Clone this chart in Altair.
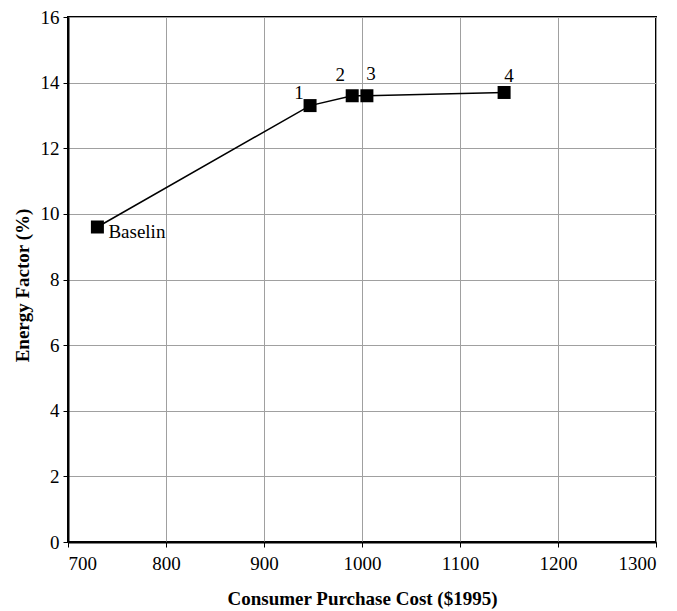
import altair as alt
import pandas as pd

# Data
cost = [730, 947, 990, 1005, 1145]
energy_factor = [9.6, 13.3, 13.6, 13.6, 13.7]
labels = ["Baselin", "1", "2", "3", "4"]

x_ticks = [700, 800, 900, 1000, 1100, 1200, 1300]
y_ticks = [0, 2, 4, 6, 8, 10, 12, 14, 16]

df = pd.DataFrame({"cost": cost, "ef": energy_factor, "label": labels})

FONT = "Liberation Serif"

x_enc = alt.X(
    "cost:Q",
    scale=alt.Scale(domain=[700, 1300], nice=False, zero=False),
    axis=alt.Axis(
        values=x_ticks,
        format="d",
        title="Consumer Purchase Cost ($1995)",
        titleY=56,
        titleBaseline="middle",
        labelPadding=7,
        labelFont=FONT,
        titleFont=FONT,
    ),
)
y_enc = alt.Y(
    "ef:Q",
    scale=alt.Scale(domain=[0, 16], nice=False),
    axis=alt.Axis(
        values=y_ticks,
        format="d",
        title="Energy Factor (%)",
        titleX=-46,
        titleY=268,
        titleBaseline="middle",
        titleAngle=270,
        labelPadding=4,
        labelFont=FONT,
        titleFont=FONT,
    ),
)

base = alt.Chart(df)

line = base.mark_line(color="black", strokeWidth=1.5).encode(x=x_enc, y=y_enc, order="cost:Q")
points = base.mark_point(shape="square", filled=True, color="black", size=169, opacity=1).encode(
    x=x_enc, y=y_enc
)

offsets = {
    "Baselin": (11, 5, "left"),
    "1": (-11, -13, "center"),
    "2": (-12, -21, "center"),
    "3": (4, -22, "center"),
    "4": (5, -16, "center"),
}

text_layers = []
for lab, (dx, dy, al) in offsets.items():
    text_layers.append(
        base.transform_filter(alt.datum.label == lab)
        .mark_text(font=FONT, fontSize=19, color="black", dx=dx, dy=dy, align=al, baseline="middle")
        .encode(x=x_enc, y=y_enc, text="label:N")
    )

chart = (
    alt.layer(line, points, *text_layers)
    .properties(
        width=588,
        height=525,
        autosize=alt.AutoSizeParams(type="none"),
        padding={"left": 60, "top": 9, "right": 13, "bottom": 69},
        background="white",
    )
    .configure(font=FONT)
    .configure_view(stroke="black", strokeWidth=2)
    .configure_axis(
        labelFont=FONT,
        titleFont=FONT,
        labelFontSize=19,
        titleFontSize=19,
        titleFontWeight="bold",
        labelColor="black",
        titleColor="black",
        domainColor="black",
        domainWidth=2,
        tickColor="black",
        tickSize=5,
        tickWidth=1,
        gridColor="#a0a0a0",
        gridWidth=1,
        gridOpacity=1,
    )
)

chart.save("out.html", embed_options={"renderer": "svg", "actions": False})
